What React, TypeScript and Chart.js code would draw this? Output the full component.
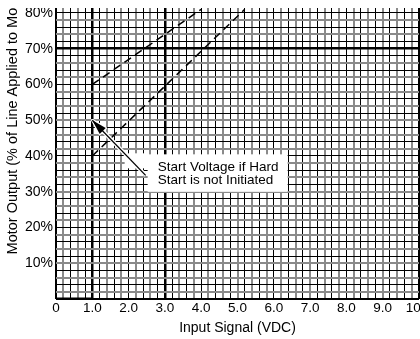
import React, { useEffect, useRef } from 'react';
import { Chart, registerables } from 'chart.js';

Chart.register(...registerables);

// ---- axis ranges / ticks ----
const X_MIN = 0;
const X_MAX = 10;
const X_STEP = 0.2;
const Y_MIN = 0;
const Y_MAX = 100;
const Y_STEP = 2;
const X_LABEL_EVERY = 1;
const Y_LABEL_EVERY = 10;
const X_HEAVY = [1, 3];
const X_EDGES = [0, 10];
const Y_HEAVY = [70];
const Y_EDGES = [0];

// ---- series ----
const offInputs = [0, 1.0];
const offOutput = [0, 0];
const upperStartInputs = [1.0, 4.0];
const upperStartOutput = [60, 81];
const lowerStartInputs = [1.0, 5.2];
const lowerStartOutput = [40, 81];

// ---- callout ----
const calloutLines = ['Start Voltage if Hard', 'Start is not Initiated'];
const calloutTip = [1.0, 50];
const calloutTextAt = [2.8, 35.7];

const FONT = "'Liberation Sans', Arial, Helvetica, sans-serif";

const near = (v: number, arr: number[]) => arr.some((a) => Math.abs(v - a) < 1e-6);
const isMultiple = (v: number, m: number) => Math.abs(v / m - Math.round(v / m)) < 1e-6;

const toPoints = (xs: number[], ys: number[]) => xs.map((x, i) => ({ x, y: ys[i] }));

const minorColor = (c: any) => {
  const i = c.index ?? 0;
  return i % 2 === 1 ? '#8a8a8a' : '#000';
};
const minorWidth = (c: any) => {
  const i = c.index ?? 0;
  return i % 2 === 1 ? 2 : 1;
};

const calloutPlugin = {
  id: 'callout',
  afterDatasetsDraw(chart: any) {
    const { ctx, scales } = chart;
    const x = scales.x;
    const y = scales.y;
    const tx = x.getPixelForValue(calloutTip[0]);
    const ty = y.getPixelForValue(calloutTip[1]);
    const lx = x.getPixelForValue(calloutTextAt[0]);
    const ly = y.getPixelForValue(calloutTextAt[1]);
    ctx.save();
    // white label background
    ctx.fillStyle = '#fff';
    ctx.fillRect(lx - 10, ly - 17, 140, 37.5);
    ctx.fillRect(lx - 33, ly - 18, 24, 15);
    // arrow
    const ex = lx - 12;
    const ey = ly + 4;
    const ang = Math.atan2(ey - ty, ex - tx);
    const hl = 15;
    const hw = 4.2;
    const bx = tx + Math.cos(ang) * hl;
    const by = ty + Math.sin(ang) * hl;
    const px = -Math.sin(ang) * hw;
    const py = Math.cos(ang) * hw;
    ctx.strokeStyle = '#fff';
    ctx.lineWidth = 4;
    ctx.beginPath();
    ctx.moveTo(bx, by);
    ctx.lineTo(ex, ey);
    ctx.stroke();
    ctx.beginPath();
    ctx.moveTo(tx, ty);
    ctx.lineTo(bx + px, by + py);
    ctx.lineTo(bx - px, by - py);
    ctx.closePath();
    ctx.lineWidth = 2.5;
    ctx.lineJoin = 'round';
    ctx.stroke();
    ctx.fillStyle = '#000';
    ctx.fill();
    ctx.strokeStyle = '#000';
    ctx.lineWidth = 1.3;
    ctx.beginPath();
    ctx.moveTo(tx, ty);
    ctx.lineTo(ex, ey);
    ctx.stroke();
    // text
    ctx.fillStyle = '#000';
    ctx.font = `13.5px ${FONT}`;
    ctx.textAlign = 'left';
    ctx.textBaseline = 'alphabetic';
    calloutLines.forEach((t, i) => ctx.fillText(t, lx, ly + i * 12.8));
    ctx.restore();
  },
};

export default function App() {
  const canvasRef = useRef<HTMLCanvasElement | null>(null);

  useEffect(() => {
    if (!canvasRef.current) return;
    Chart.defaults.font.family = FONT;
    Chart.defaults.color = '#000';
    const chart = new Chart(canvasRef.current, {
      type: 'line',
      data: {
        datasets: [
          {
            data: toPoints(offInputs, offOutput),
            borderColor: '#000',
            borderWidth: 3,
            pointRadius: 0,
            fill: false,
          },
          {
            data: toPoints(upperStartInputs, upperStartOutput),
            borderColor: '#000',
            borderWidth: 1.5,
            borderDash: [8, 5],
            pointRadius: 0,
            fill: false,
          },
          {
            data: toPoints(lowerStartInputs, lowerStartOutput),
            borderColor: '#000',
            borderWidth: 1.5,
            borderDash: [8, 5],
            pointRadius: 0,
            fill: false,
          },
        ],
      },
      options: {
        animation: false,
        responsive: false,
        layout: { padding: { top: 10, right: 21, bottom: 0, left: 0 } },
        plugins: { legend: { display: false }, tooltip: { enabled: false } },
        scales: {
          x: {
            type: 'linear',
            min: X_MIN,
            max: X_MAX,
            ticks: {
              stepSize: X_STEP,
              autoSkip: false,
              maxRotation: 0,
              padding: 1,
              color: '#000',
              font: { size: 13.5 },
              callback: (v: any) => {
                const n = Number(v);
                if (!isMultiple(n, X_LABEL_EVERY)) return '';
                if (near(n, [X_MAX])) return String(Math.round(n)) + '   ';
                return near(n, [X_MIN]) ? String(Math.round(n)) : n.toFixed(1);
              },
            },
            grid: {
              drawTicks: false,
              color: (c: any) => {
                const v = c.tick ? c.tick.value : 0;
                if (near(v, X_HEAVY) || near(v, X_EDGES)) return '#000';
                return minorColor(c);
              },
              lineWidth: (c: any) => {
                const v = c.tick ? c.tick.value : 0;
                if (near(v, X_HEAVY)) return 2.5;
                if (near(v, X_EDGES)) return v === X_MAX ? 3 : 2;
                return minorWidth(c);
              },
            },
            border: { display: false },
            title: {
              display: true,
              text: 'Input Signal (VDC)',
              color: '#000',
              font: { size: 14 },
              padding: { top: 0, bottom: 8 },
            },
            afterFit: (s: any) => {
              s.height = 46;
            },
          },
          y: {
            type: 'linear',
            min: Y_MIN,
            max: Y_MAX,
            ticks: {
              stepSize: Y_STEP,
              autoSkip: false,
              padding: 3,
              color: '#000',
              font: { size: 14 },
              callback: (v: any) => {
                const n = Number(v);
                if (n === 0 || !isMultiple(n, Y_LABEL_EVERY)) return '';
                return `${Math.round(n)}%`;
              },
            },
            grid: {
              drawTicks: false,
              color: (c: any) => {
                const v = c.tick ? c.tick.value : 0;
                if (near(v, Y_HEAVY) || near(v, Y_EDGES)) return '#000';
                return minorColor(c);
              },
              lineWidth: (c: any) => {
                const v = c.tick ? c.tick.value : 0;
                if (near(v, Y_HEAVY)) return 2.5;
                if (near(v, Y_EDGES)) return 2;
                return minorWidth(c);
              },
            },
            border: { display: false },
            title: {
              display: true,
              text: 'Motor Output (% of Line Applied to Motor)',
              color: '#000',
              font: { size: 14.5 },
              padding: { top: 4.5, bottom: 0 },
            },
            afterFit: (s: any) => {
              s.width = 56;
            },
          },
        },
      } as any,
      plugins: [calloutPlugin],
    });
    return () => chart.destroy();
  }, []);

  return (
    <div
      style={{
        position: 'absolute',
        left: 0,
        top: 8,
        width: 420,
        height: 331,
        overflow: 'hidden',
        background: '#fff',
      }}
    >
      <div style={{ position: 'absolute', left: 0, top: -78, width: 440, height: 415 }}>
        <canvas ref={canvasRef} width={440} height={415} style={{ width: 440, height: 415 }} />
      </div>
    </div>
  );
}
